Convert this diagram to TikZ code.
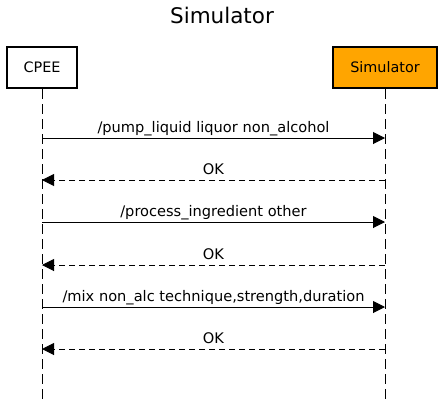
\documentclass[tikz,border=0pt]{standalone}
\usepackage{fontspec}
\setmainfont{DejaVu Sans}
\usetikzlibrary{arrows.meta}
\begin{document}
\begin{tikzpicture}[x=1pt,y=-1pt,
  actor/.style={draw=black,line width=2pt,minimum width=#1,minimum height=41pt,inner sep=0pt,font=\fontsize{14.4}{16}\selectfont},
  life/.style={line width=1pt,dash pattern=on 10pt off 5pt},
  msg/.style={line width=1pt,-{Triangle[length=12pt,width=12pt]}},
  ret/.style={msg,dash pattern=on 6pt off 4pt},
  lbl/.style={font=\fontsize{14.6}{16}\selectfont,inner sep=0pt,anchor=base}]
\useasboundingbox (0,0) rectangle (444,402);
\node[font=\fontsize{21.5}{24}\selectfont] (title) at (222,15) {Simulator};
\node[actor=70pt,fill=white] (cpee) at (42,67.5) {CPEE};
\node[actor=104pt,fill={rgb,255:red,255;green,165;blue,0}] (sim) at (385,67.5) {Simulator};
\coordinate (cend) at (42,400);
\coordinate (send) at (385,400);
\draw[life] (cpee.south) -- (cend);
\draw[life] (sim.south) -- (send);
\foreach \n/\y in {a1/138,r1/180,a2/222,r2/265,a3/307,r3/349}{
  \coordinate (c\n) at (42,\y);
  \coordinate (s\n) at (385,\y);
}
\draw[msg] (ca1) -- (sa1) node[lbl,pos=0.5,yshift=6pt] {/pump\_liquid liquor non\_alcohol};
\draw[ret] (sr1) -- (cr1) node[lbl,pos=0.5,yshift=6pt] {OK};
\draw[msg] (ca2) -- (sa2) node[lbl,pos=0.5,yshift=6pt] {/process\_ingredient other};
\draw[ret] (sr2) -- (cr2) node[lbl,pos=0.5,yshift=6pt] {OK};
\draw[msg] (ca3) -- (sa3) node[lbl,pos=0.5,yshift=6pt] {/mix non\_alc technique,strength,duration};
\draw[ret] (sr3) -- (cr3) node[lbl,pos=0.5,yshift=6pt] {OK};
\end{tikzpicture}
\end{document}
